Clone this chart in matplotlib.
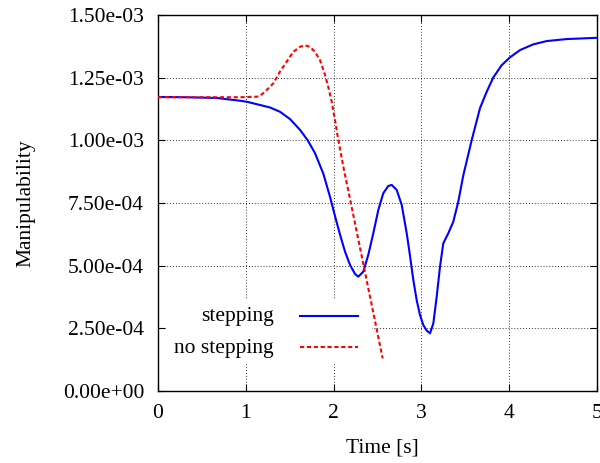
import matplotlib
matplotlib.use("Agg")
import matplotlib.pyplot as plt
from matplotlib.lines import Line2D
from matplotlib.patches import Rectangle
from matplotlib.ticker import FormatStrFormatter, MultipleLocator

# manipulability over time
time_stepping = [0.0, 0.3, 0.67, 0.934, 1.01, 1.162, 1.276, 1.389, 1.503, 1.617,
                 1.705, 1.788, 1.883, 1.959, 2.016, 2.073, 2.130, 2.187, 2.244,
                 2.281, 2.338, 2.395, 2.452, 2.509, 2.566, 2.623, 2.662, 2.719,
                 2.776, 2.833, 2.870, 2.908, 2.946, 2.984, 3.022, 3.060, 3.098,
                 3.136, 3.174, 3.212, 3.249, 3.306, 3.363, 3.420, 3.477, 3.573,
                 3.667, 3.744, 3.819, 3.915, 4.009, 4.123, 4.275, 4.427, 4.655, 5.0]
manip_stepping = [1.173e-3, 1.172e-3, 1.169e-3, 1.158e-3, 1.154e-3, 1.141e-3,
                  1.131e-3, 1.114e-3, 1.085e-3, 1.042e-3, 1.000e-3, 9.49e-4,
                  8.67e-4, 7.75e-4, 6.98e-4, 6.24e-4, 5.56e-4, 5.03e-4, 4.67e-4,
                  4.56e-4, 4.76e-4, 5.43e-4, 6.29e-4, 7.22e-4, 7.89e-4, 8.18e-4,
                  8.22e-4, 8.02e-4, 7.42e-4, 6.29e-4, 5.40e-4, 4.43e-4, 3.63e-4,
                  3.03e-4, 2.63e-4, 2.41e-4, 2.30e-4, 2.70e-4, 3.76e-4, 4.96e-4,
                  5.89e-4, 6.29e-4, 6.75e-4, 7.55e-4, 8.60e-4, 1.001e-3, 1.128e-3,
                  1.194e-3, 1.251e-3, 1.300e-3, 1.331e-3, 1.360e-3, 1.383e-3,
                  1.396e-3, 1.404e-3, 1.409e-3]

time_no_stepping = [0.0, 0.5, 0.934, 1.128, 1.17, 1.219, 1.313, 1.389, 1.466,
                    1.541, 1.617, 1.674, 1.731, 1.788, 1.845, 1.902, 1.940,
                    1.978, 2.016, 2.054, 2.118, 2.187, 2.263, 2.338, 2.395,
                    2.452, 2.505, 2.559]
manip_no_stepping = [1.172e-3, 1.172e-3, 1.172e-3, 1.174e-3, 1.180e-3, 1.194e-3,
                     1.227e-3, 1.274e-3, 1.314e-3, 1.353e-3, 1.373e-3, 1.379e-3,
                     1.373e-3, 1.353e-3, 1.320e-3, 1.262e-3, 1.212e-3, 1.155e-3,
                     1.080e-3, 1.001e-3, 8.82e-4, 7.66e-4, 6.36e-4, 5.08e-4,
                     4.10e-4, 3.13e-4, 2.22e-4, 1.30e-4]

labels = ["stepping", "no stepping"]
colors = ["#0000ff", "#ff0000"]

plt.rcParams["font.family"] = ["Liberation Serif", "DejaVu Serif"]
plt.rcParams["font.size"] = 15.5

fig = plt.figure(figsize=(6.0, 4.63), dpi=100)
ax = fig.add_axes([158 / 600, 1 - 391 / 463, 439 / 600, 376 / 463])

ax.plot(time_stepping, manip_stepping, color=colors[0], lw=1.5, zorder=3)
ax.plot(time_no_stepping, manip_no_stepping, color=colors[1], lw=1.5,
        dashes=(2, 1.3), zorder=3)

ax.set_xlim(0, 5)
ax.set_ylim(0, 1.5e-3)
ax.xaxis.set_major_locator(MultipleLocator(1))
ax.yaxis.set_major_locator(MultipleLocator(2.5e-4))
ax.yaxis.set_major_formatter(FormatStrFormatter("%.2e"))
ax.tick_params(direction="in", length=5, width=0.8, top=True, right=True,
               labelsize=15.5)
ax.tick_params(axis="y", pad=10)
ax.tick_params(axis="x", pad=9)
for s in ax.spines.values():
    s.set_linewidth(1.0)

ax.set_axisbelow(True)
ax.grid(True, color="black", linestyle=(0, (1, 2)), linewidth=0.7, alpha=0.8)

# gnuplot-style key: white box, right-aligned labels, sample line on the right
ax.add_patch(Rectangle((0.02, 0.0745), 0.4675, 0.1675, transform=ax.transAxes,
                       facecolor="white", edgecolor="none", zorder=1))
for i, (lab, col) in enumerate(zip(labels, colors)):
    y = 0.197 - i * 0.083
    ax.text(0.264, y, lab, transform=ax.transAxes, ha="right", va="center",
            fontsize=15.5, zorder=4)
    ln = Line2D([0.323, 0.456], [y + 0.003, y + 0.003], transform=ax.transAxes,
                color=col, lw=1.5, zorder=4)
    if i == 1:
        ln.set_dashes((2, 1.3))
    ax.add_line(ln)

ax.set_xlabel("Time [s]", fontsize=15.5)
ax.set_ylabel("Manipulability", fontsize=15.5)
ax.xaxis.set_label_coords(0.51, -0.125)
ax.yaxis.set_label_coords(-0.28, 0.5)

fig.savefig("out.png", dpi=100)
